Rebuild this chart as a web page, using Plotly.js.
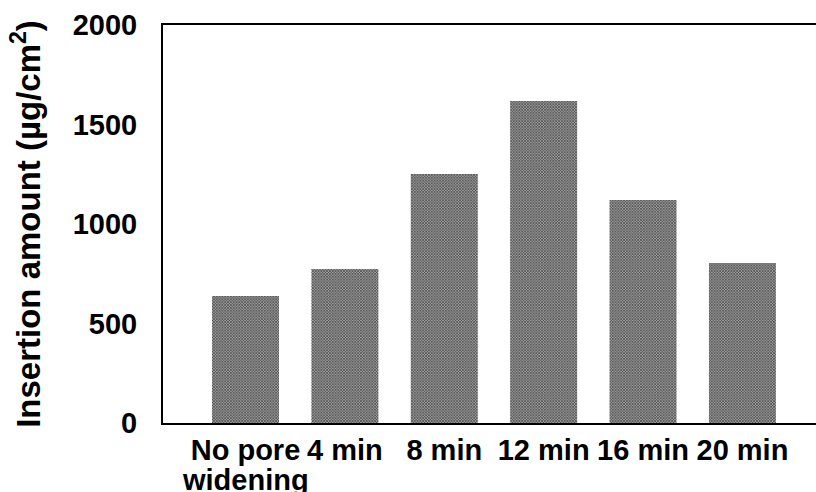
<!DOCTYPE html>
<html>
<head>
<meta charset="utf-8">
<script src="https://cdn.plot.ly/plotly-3.0.1.min.js"></script>
<style>html,body{margin:0;padding:0;background:#fff;}#chart{width:816px;height:492px;}</style>
</head>
<body>
<div id="chart"></div>
<script>
var categories = ["No pore<br>widening", "4 min", "8 min", "12 min", "16 min", "20 min"];
var insertionAmount = [638, 774, 1251, 1618, 1121, 804];
var yTickValues = [0, 500, 1000, 1500, 2000];
var yTickLabels = ["0", "500", "1000", "1500", "2000"];

var font = "Liberation Sans, Arial, sans-serif";
var xIdx = categories.map(function(c, i){ return i; });
var firstLines = categories.map(function(c){ return c.split("<br>")[0]; });

// second lines of wrapped labels drawn tighter than Plotly's default line spacing
var annotations = [];
categories.forEach(function(c, i){
  var parts = c.split("<br>");
  if (parts.length > 1) {
    annotations.push({
      x: i, xref: "x", y: 0, yref: "paper",
      yanchor: "middle", xanchor: "center", yshift: -57,
      text: parts.slice(1).join("<br>"), showarrow: false,
      font: {family: font, size: 29, color: "#000", weight: "bold"}
    });
  }
});

var trace = {
  type: "bar",
  x: xIdx,
  y: insertionAmount,
  width: 0.674,
  marker: {
    color: "#a0a0a0",
    line: {width: 0},
    pattern: {shape: "x", fgcolor: "#333333", bgcolor: "#a0a0a0", size: 2, solidity: 0.5}
  },
  hoverinfo: "none"
};

var layout = {
  width: 816, height: 492,
  margin: {l: 163, r: 0, t: 25, b: 69},
  paper_bgcolor: "#fff", plot_bgcolor: "#fff",
  showlegend: false,
  font: {family: font, color: "#000"},
  annotations: annotations,
  xaxis: {
    range: [-0.83, 5.74],
    tickvals: xIdx,
    ticktext: firstLines,
    showgrid: false, zeroline: false,
    showline: true, linecolor: "#000", linewidth: 2, mirror: true,
    ticks: "",
    tickfont: {family: font, size: 29, color: "#000", weight: "bold"},
    automargin: false
  },
  yaxis: {
    range: [0, 2000],
    tickvals: yTickValues,
    ticktext: yTickLabels,
    showgrid: false, zeroline: false,
    showline: true, linecolor: "#000", linewidth: 2,
    ticks: "",
    ticklabelstandoff: 18,
    tickfont: {family: font, size: 29, color: "#000", weight: "bold"},
    title: {text: "Insertion amount (µg/cm<sup>2</sup>)", font: {family: font, size: 33, color: "#000", weight: "bold"}, standoff: 22},
    automargin: false
  }
};

Plotly.newPlot("chart", [trace], layout, {staticPlot: true, displayModeBar: false});
</script>
</body>
</html>
